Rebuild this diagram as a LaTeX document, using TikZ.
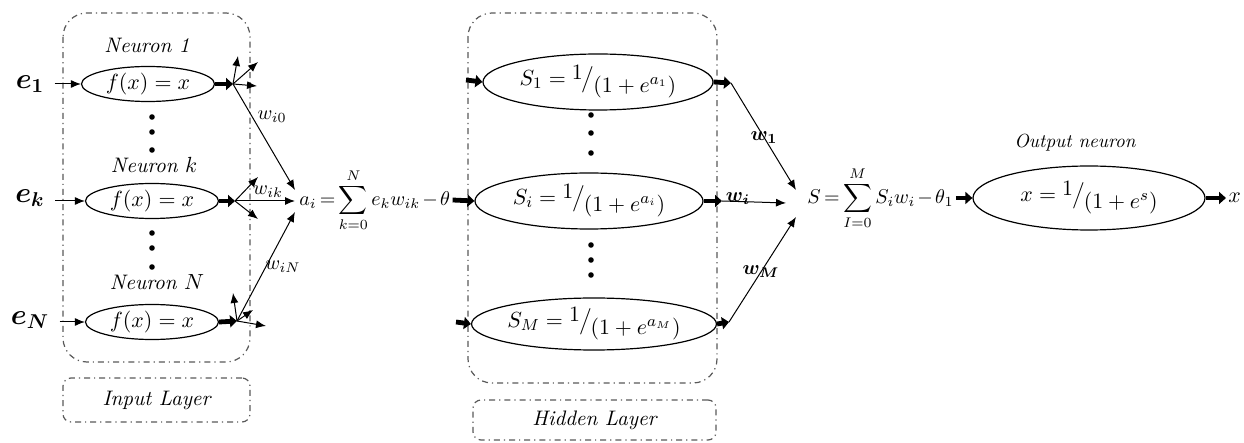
\documentclass[tikz,border=0pt]{standalone}
\usepackage{amsmath,bm}
\usetikzlibrary{arrows.meta,shapes.geometric,calc}
\newcommand{\ovr}[2]{\raisebox{0.55ex}{$#1$}\kern-0.5pt\big/\kern-0.5pt\raisebox{-0.8ex}{$#2$}}
\newcommand{\tightmath}{\thickmuskip=3mu\relax\medmuskip=2mu\relax}
\begin{document}
\begin{tikzpicture}[x=0.5pt,y=-0.5pt,
  layerbox/.style={draw=black!65, line width=0.6pt, dash dot, rounded corners=12pt},
  labelbox/.style={draw=black!65, line width=0.6pt, dash dot, rounded corners=4pt, font=\fontsize{10.5}{12}\selectfont\itshape, inner sep=0pt},
  neuron/.style={draw, ellipse, line width=0.6pt, inner sep=0pt},
  inneuron/.style={neuron, minimum width=66.5pt, minimum height=17.5pt, font=\fontsize{11}{13}\selectfont},
  hidneuron/.style={neuron, minimum height=28pt, font=\fontsize{11}{13}\selectfont},
  thinarr/.style={line width=0.5pt, -{Latex[length=5pt,width=4pt]}},
  thickarr/.style={line width=2.4pt, -{Triangle[length=3.5pt,width=6pt]}},
  neulab/.style={font=\fontsize{10.5}{12}\selectfont\itshape},
  inlab/.style={font=\fontsize{14}{16}\selectfont, inner sep=5pt},
  wlab/.style={font=\fontsize{10}{12}\selectfont, inner sep=0pt},
  dotc/.style={circle, fill, inner sep=0pt, minimum size=2.8pt},
  formula/.style={font=\fontsize{10}{12}\selectfont, inner sep=1pt, anchor=west}
]
\useasboundingbox (0,0) rectangle (1244,443);

% layer boxes
\draw[layerbox] (63,13) rectangle (250,362);
\draw[layerbox] (468,13) rectangle (717,383);
\node[labelbox, minimum width=93.5pt, minimum height=22pt] (inlayer) at (156.5,400) {Input Layer};
\node[labelbox, minimum width=121.5pt, minimum height=20pt] (hidlayer) at (594.5,420) {Hidden Layer};

% input neurons
\node[inneuron] (n1) at (148,84) {$f(x) = x$};
\node[inneuron] (nk) at (152,201) {$f(x) = x$};
\node[inneuron] (nN) at (152,322) {$f(x) = x$};
\node[neulab] (lab1) at (147,45) {Neuron 1};
\node[neulab] (labk) at (154,165) {Neuron $k$};
\node[neulab] (labN) at (157,282) {Neuron $N$};

\node[inlab] (e1) at (30,84) {$\bm{e_1}$};
\node[inlab] (ek) at (30,198) {$\bm{e_k}$};
\node[inlab] (eN) at (30,320) {$\bm{e_N}$};
\draw[thinarr] (e1) -- (n1);
\draw[thinarr] (ek.east |- nk) -- (nk);
\draw[thinarr] (eN.east |- nN) -- (nN);

% dots
\foreach \y [count=\i] in {117,132,150} {\node[dotc] (da\i) at (152,\y) {};}
\foreach \y [count=\i] in {233,248,267} {\node[dotc] (db\i) at (152,\y) {};}

% fan points
\coordinate (f1) at (233,84);
\coordinate (fk) at (235,201);
\coordinate (fN) at (237,321);
\draw[thickarr] (n1.east) -- (f1);
\draw[thickarr] (nk.east) -- (fk);
\draw[thickarr] (nN.east) -- (fN);

\coordinate (t11) at (238,56);
\coordinate (t12) at (258,62);
\coordinate (t13) at (257,86);
\coordinate (tk1) at (258,177);
\coordinate (tk2) at (258,219);
\coordinate (tN1) at (233,293);
\coordinate (tN2) at (253,310);
\coordinate (tN3) at (266,326);
\foreach \t in {t11,t12,t13} \draw[thinarr] (f1) -- (\t);
\foreach \t in {tk1,tk2} \draw[thinarr] (fk) -- (\t);
\foreach \t in {tN1,tN2,tN3} \draw[thinarr] (fN) -- (\t);

% a_i formula
\node[formula] (aform) at (297,200) {$\tightmath a_i = \displaystyle\sum_{k=0}^{N} e_k w_{ik} - \theta$};
\coordinate (c0) at (295,190);
\coordinate (ck) at (295,201);
\coordinate (cN) at (295,212);
\draw[thinarr] (f1) -- (c0);
\draw[thinarr] (fk) -- (ck);
\draw[thinarr] (fN) -- (cN);
\node[wlab] (wi0) at (272,117) {$w_{i0}$};
\node[wlab] (wik) at (268,192) {$w_{ik}$};
\node[wlab] (wiN) at (283,267) {$w_{iN}$};

% hidden neurons
\node[hidneuron, minimum width=115pt] (s1) at (598,82) {$S_1 = \ovr{1}{(1+e^{a_1})}$};
\node[hidneuron, minimum width=114pt] (si) at (589,201) {$S_i = \ovr{1}{(1+e^{a_i})}$};
\node[hidneuron, minimum width=119pt, minimum height=26pt] (sM) at (594,324) {$S_M = \ovr{1}{(1+e^{a_M})}$};
\foreach \y [count=\i] in {115,133,153} {\node[dotc] (dc\i) at (591,\y) {};}
\foreach \y [count=\i] in {245,260,275} {\node[dotc] (dd\i) at (591,\y) {};}

\coordinate (h1) at (466,80);
\coordinate (hM) at (456,322);
\draw[thickarr] (h1) -- (s1.west);
\draw[thickarr] (aform.east) -- (si.west);
\draw[thickarr] (hM) -- (sM.west);

\coordinate (o1) at (731,83);
\coordinate (oi) at (722,201);
\coordinate (oM) at (729,322);
\draw[thickarr] (s1.east) -- (o1);
\draw[thickarr] (si.east) -- (oi);
\draw[thickarr] (sM.east) -- (oM);

% S formula
\node[formula] (sform) at (805,198) {$\tightmath S = \displaystyle\sum_{I=0}^{M} S_i w_i - \theta_1$};
\coordinate (g1) at (796,190);
\coordinate (gi) at (786,203);
\coordinate (gM) at (796,217);
\draw[thinarr] (o1) -- (g1);
\draw[thinarr] (oi) -- (gi);
\draw[thinarr] (oM) -- (gM);
\node[wlab] (w1) at (764,138) {$\bm{w_1}$};
\node[wlab] (wi) at (738,199) {$\bm{w_i}$};
\node[wlab] (wM) at (761,272) {$\bm{w_M}$};

% output neuron
\node[neuron, minimum width=116pt, minimum height=32pt, font=\fontsize{11}{13}\selectfont] (out) at (1089,198) {$x = \ovr{1}{(1+e^{s})}$};
\node[neulab, font=\fontsize{9.5}{11}\selectfont\itshape] (outlab) at (1075,143) {Output neuron};
\draw[thickarr] (sform.east) -- (out.west);
\node[font=\fontsize{11}{13}\selectfont, anchor=west, inner sep=1pt] (xout) at (1226,198) {$x$};
\draw[thickarr] (out.east) -- (xout.west);
\end{tikzpicture}
\end{document}
